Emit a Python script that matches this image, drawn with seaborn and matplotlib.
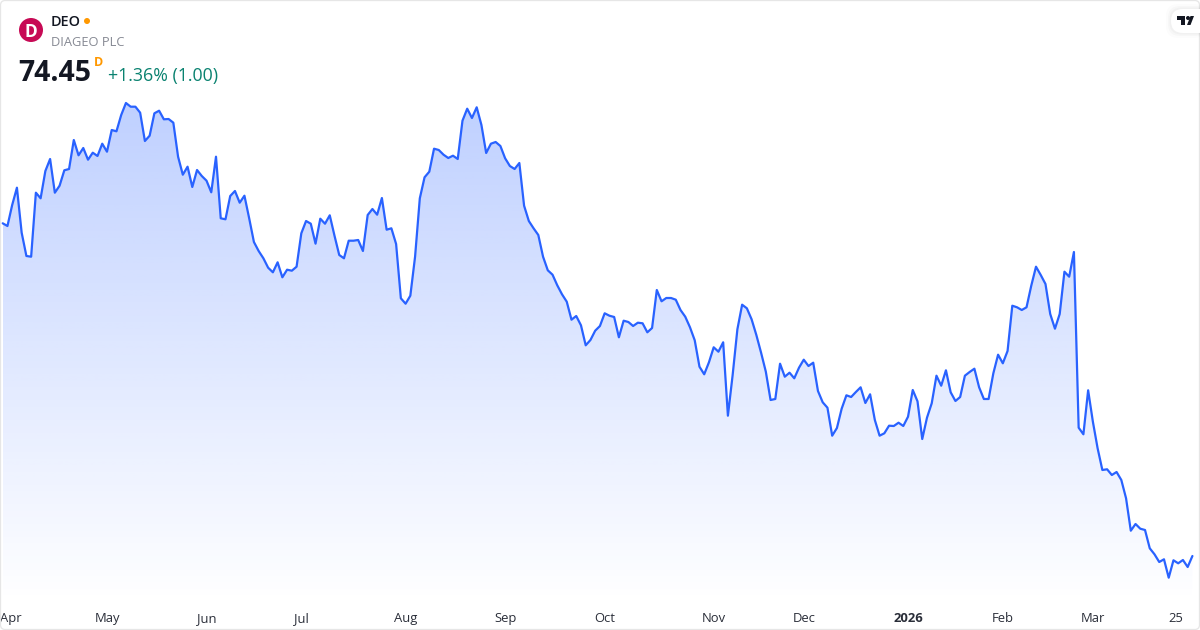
import numpy as np
import pandas as pd
import matplotlib
matplotlib.use("Agg")
import matplotlib.pyplot as plt
from matplotlib.patches import Ellipse, FancyBboxPatch, Polygon
import seaborn as sns

# daily close
close = [
    107.72, 107.45, 109.55, 111.28, 106.78, 104.45, 104.38, 110.78, 110.22, 112.95,
    114.15, 110.78, 111.48, 113.02, 113.15, 116.05, 114.52, 115.25, 114.08, 114.78,
    114.45, 115.68, 114.88, 117.05, 116.92, 118.55, 119.75, 119.38, 119.38, 118.78,
    115.95, 116.48, 118.72, 118.98, 118.12, 118.15, 117.78, 114.38, 112.58, 113.38,
    111.35, 113.05, 112.45, 111.98, 110.82, 114.38, 108.22, 108.12, 110.45, 110.95,
    109.78, 110.48, 108.22, 105.85, 104.95, 104.22, 103.28, 102.82, 103.82, 102.32,
    103.08, 102.98, 103.38, 106.72, 107.95, 107.68, 105.68, 108.18, 107.68, 108.52,
    106.48, 104.55, 104.22, 105.98, 105.98, 106.05, 104.95, 108.55, 109.15, 108.58,
    110.25, 107.08, 107.22, 105.65, 100.22, 99.68, 100.48, 104.38, 110.22, 112.32,
    112.88, 115.18, 115.05, 114.58, 114.25, 114.48, 114.15, 117.98, 119.18, 118.25,
    119.32, 117.55, 114.75, 115.68, 115.85, 115.45, 114.22, 113.45, 113.15, 113.75,
    109.48, 107.95, 107.22, 106.55, 104.38, 103.02, 102.58, 101.52, 100.62, 99.88,
    98.08, 98.45, 97.52, 95.52, 96.05, 96.98, 97.45, 98.72, 98.48, 98.35,
    96.32, 97.98, 97.85, 97.45, 97.78, 97.72, 96.82, 97.25, 101.05, 99.92,
    100.25, 100.25, 100.08, 99.05, 98.38, 97.32, 96.02, 93.38, 92.62, 93.82,
    95.32, 94.88, 95.82, 88.48, 92.55, 97.12, 99.58, 99.22, 98.12, 96.55,
    94.78, 92.88, 90.05, 90.15, 93.68, 92.38, 92.78, 92.22, 93.28, 94.08,
    93.45, 93.78, 90.95, 89.82, 89.28, 86.48, 87.25, 89.18, 90.52, 90.35,
    90.85, 91.32, 89.75, 90.62, 88.05, 86.48, 86.72, 87.48, 87.45, 87.78,
    87.45, 88.38, 91.05, 89.92, 86.15, 88.28, 89.72, 92.48, 91.48, 93.02,
    90.82, 89.95, 90.35, 92.48, 92.85, 93.18, 91.32, 90.15, 90.15, 92.72,
    94.58, 93.72, 94.95, 99.48, 99.32, 99.05, 99.32, 101.48, 103.38, 102.55,
    101.65, 98.65, 97.18, 98.65, 102.88, 102.38, 104.85, 87.28, 86.62, 91.02,
    87.88, 85.22, 83.05, 83.12, 82.55, 82.85, 82.05, 80.22, 76.98, 77.65,
    77.18, 77.05, 75.22, 74.62, 73.85, 74.12, 72.28, 74.02, 73.72, 74.05,
    73.35, 74.45,
]
tick_labels = ["Apr", "May", "Jun", "Jul", "Aug", "Sep", "Oct", "Nov", "Dec", "2026", "Feb", "Mar", "25"]
tick_days = [1.8, 22.1, 43, 63, 85, 106, 127, 150, 169, 191, 211, 230, 247.5]

LINE = "#2962FF"


def px(x, y):
    """picture pixels to figure coords"""
    return x / 1200, 1 - y / 630


def dot(x, y, d, color):
    """round mark given in picture pixels"""
    fig.add_artist(Ellipse(px(x, y), d / 1200, d / 630, transform=fig.transFigure, fc=color, ec="none"))


sns.set_theme(style="white")
plt.rcParams["font.family"] = ["Open Sans", "DejaVu Sans"]

df = pd.DataFrame({"day": np.arange(len(close)), "close": close})

fig = plt.figure(figsize=(12, 6.3), dpi=100, facecolor="white")
ax = fig.add_axes([0, 1 - 603 / 630, 1, 603 / 630])
ax.set_facecolor("none")

# gradient area under the line
ymin, ymax = 69.75, 130.05
grad = np.zeros((256, 2, 4))
grad[..., :3] = matplotlib.colors.to_rgb(LINE)
grad[..., 3] = np.linspace(0.30, 0, 256)[:, None]
img = ax.imshow(grad, extent=(df.day.iloc[0], df.day.iloc[-1], ymin, 119.75), aspect="auto", zorder=1)
poly = ax.fill_between(df.day, df.close, ymin, color="none")
img.set_clip_path(poly.get_paths()[0], transform=ax.transData)

sns.lineplot(data=df, x="day", y="close", color=LINE, lw=1.6, ax=ax, zorder=2)

ax.set_xlim(-0.57, 252.6)
ax.set_ylim(ymin, ymax)
ax.set_xlabel("")
ax.set_ylabel("")
ax.set_yticks([])
ax.set_xticks(tick_days)
ax.set_xticklabels(tick_labels)
ax.tick_params(axis="x", length=0, pad=6.6, labelsize=9.4, labelcolor="#2a2e39")
ax.get_xticklabels()[9].set_fontweight("bold")
sns.despine(ax=ax, left=True, bottom=True)

# frame of the widget
fig.add_artist(FancyBboxPatch(px(0.5, 629.5), 1199 / 1200, 629 / 630, boxstyle="round,pad=0,rounding_size=0.004",
                              mutation_aspect=1.9, transform=fig.transFigure, fill=False, ec="#e6e6e6", lw=0.9))

# logo
dot(31, 30, 24, "#c70a55")
fig.text(*px(31.3, 30), "D", color="white", fontsize=12.5, fontweight="bold", ha="center", va="center_baseline")

# header
fig.text(*px(51, 21), "DEO", color="#131722", fontsize=10.4, fontweight="semibold", va="center_baseline")
dot(87, 21, 6, "#ff9800")
fig.text(*px(51, 41), "DIAGEO PLC", color="#868993", fontsize=9.3, va="center_baseline")
fig.text(*px(18.5, 70), "74.45", color="#131722", fontsize=20.4, fontweight="bold", va="center_baseline")
fig.text(*px(93.5, 61), "D", color="#ff9800", fontsize=9, fontweight="bold", va="center_baseline")
fig.text(*px(108, 74.3), "+1.36% (1.00)", color="#0a8270", fontsize=12.8, va="center_baseline")

# TradingView badge
for off, alpha in ((5, 0.012), (3, 0.018), (1.5, 0.025)):
    fig.add_artist(FancyBboxPatch(px(1171 - off, 33 + off), 40 / 1200, (24 + 2 * off) / 630,
                                  boxstyle="round,pad=0,rounding_size=0.01", mutation_aspect=1.9,
                                  transform=fig.transFigure, fc="black", ec="none", alpha=alpha))
fig.add_artist(FancyBboxPatch(px(1171, 33), 40 / 1200, 24 / 630, boxstyle="round,pad=0,rounding_size=0.01",
                              mutation_aspect=1.9, transform=fig.transFigure, fc="white", ec="none"))
glyph = [
    [(1177, 16), (1185, 16), (1185, 25), (1181, 25), (1181, 20), (1177, 20)],
    [(1187, 25), (1190.5, 16), (1194, 16), (1190.5, 25)],
]
for pts in glyph:
    fig.add_artist(Polygon([px(*p) for p in pts], transform=fig.transFigure, fc="#131722", ec="none"))
dot(1188, 18, 4, "#131722")

fig.savefig("out.png", dpi=100)
